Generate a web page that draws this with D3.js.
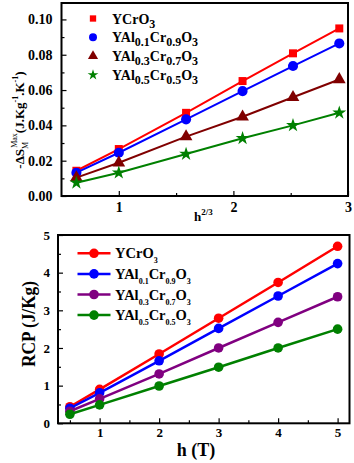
<!DOCTYPE html>
<html><head><meta charset="utf-8">
<script src="https://cdn.jsdelivr.net/npm/d3@7"></script>
<style>body{margin:0;background:#fff}svg{display:block}text{font-family:"Liberation Serif","Times New Roman",serif;font-weight:bold}</style>
</head><body><svg id="c" width="354" height="463"></svg>
<script>
// ---- data ----
const topX = [0.63, 1.0, 1.587, 2.08, 2.52, 2.924]; // h^(2/3)
const topYCrO3 = [0.0143, 0.0266, 0.0471, 0.0651, 0.0808, 0.0949];
const topYAl01 = [0.0132, 0.0245, 0.0434, 0.0594, 0.0736, 0.0864];
const topYAl03 = [0.0104, 0.0188, 0.0336, 0.0449, 0.0559, 0.0660];
const topYAl05 = [0.0075, 0.0132, 0.0238, 0.0327, 0.0400, 0.0471];
const topYTicks = [0.00, 0.02, 0.04, 0.06, 0.08, 0.10];
const topXTicks = [1, 2, 3];

const botX = [0.5, 1, 2, 3, 4, 5]; // h (T)
const rcpYCrO3 = [0.44, 0.90, 1.84, 2.79, 3.74, 4.70];
const rcpYAl01 = [0.40, 0.81, 1.66, 2.52, 3.38, 4.24];
const rcpYAl03 = [0.32, 0.65, 1.31, 2.00, 2.68, 3.36];
const rcpYAl05 = [0.24, 0.49, 0.99, 1.49, 2.00, 2.50];
const botYTicks = [0, 1, 2, 3, 4, 5];
const botXTicks = [1, 2, 3, 4, 5];

const svg = d3.select("#c");

function label(sel, parts, subSize, shift) {
  parts.forEach(p => {
    const t = sel.append("tspan").text(p[0]);
    if (p[1] === "sub") t.attr("font-size", subSize).attr("baseline-shift", shift);
  });
}

// ================= TOP CHART =================
{
  const L = 61.5, R = 348, T = 3, B = 196;
  const x = d3.scaleLinear().domain([0.5, 3]).range([L, R]);
  const y = d3.scaleLinear().domain([0, 0.1093]).range([B, T]);
  const g = svg.append("g");
  const xa = g.append("g").attr("transform", `translate(0,${B})`)
    .call(d3.axisBottom(x).tickValues(topXTicks).tickSizeInner(-5).tickSizeOuter(0).tickFormat(d3.format("d")).tickPadding(6));
  g.append("g").attr("transform", `translate(0,${B})`)
    .call(d3.axisBottom(x).tickValues([1.5, 2.5]).tickSizeInner(-3).tickSizeOuter(0).tickFormat(""));
  const ya = g.append("g").attr("transform", `translate(${L},0)`)
    .call(d3.axisLeft(y).tickValues(topYTicks).tickSizeInner(-5).tickSizeOuter(0).tickFormat(d3.format(".2f")).tickPadding(9));
  g.append("g").attr("transform", `translate(${L},0)`)
    .call(d3.axisLeft(y).tickValues([0.01, 0.03, 0.05, 0.07, 0.09]).tickSizeInner(-3).tickSizeOuter(0).tickFormat(""));
  g.selectAll(".domain").remove();
  g.selectAll(".tick line").attr("stroke", "#000").attr("stroke-width", 1.2);
  xa.selectAll("text").attr("font-size", 14).attr("fill", "#000").style("font-family", "Liberation Serif").style("font-weight", "bold");
  ya.selectAll("text").attr("font-size", 14).attr("fill", "#000").style("font-family", "Liberation Serif").style("font-weight", "bold");
  g.append("rect").attr("x", L).attr("y", T).attr("width", R - L).attr("height", B - T)
    .attr("fill", "none").attr("stroke", "#000").attr("stroke-width", 2);

  const series = [
    {v: topYCrO3, c: "#ff0000", m: d3.symbolSquare, s: 64, ls: 40, name: [["YCrO"], ["3", "sub"]]},
    {v: topYAl01, c: "#0000ff", m: d3.symbolCircle, s: 80, ls: 50, name: [["YAl"], ["0.1", "sub"], ["Cr"], ["0.9", "sub"], ["O"], ["3", "sub"]]},
    {v: topYAl03, c: "#800000", m: d3.symbolTriangle, s: 70, ls: 45, name: [["YAl"], ["0.3", "sub"], ["Cr"], ["0.7", "sub"], ["O"], ["3", "sub"]]},
    {v: topYAl05, c: "#008000", m: d3.symbolStar, s: 60, ls: 36, name: [["YAl"], ["0.5", "sub"], ["Cr"], ["0.5", "sub"], ["O"], ["3", "sub"]]}
  ];
  const line = d3.line().x((d, i) => x(topX[i])).y(d => y(d));
  series.forEach(s => {
    g.append("path").datum(s.v).attr("d", line).attr("fill", "none").attr("stroke", s.c).attr("stroke-width", 2);
    g.selectAll(null).data(s.v).enter().append("path")
      .attr("d", d3.symbol().type(s.m).size(s.s))
      .attr("transform", (d, i) => `translate(${x(topX[i])},${y(d)})`).attr("fill", s.c);
  });
  series.forEach((s, i) => {
    const ly = 18.5 + i * 18.8;
    g.append("path").attr("d", d3.symbol().type(s.m).size(s.ls)).attr("transform", `translate(93,${ly})`).attr("fill", s.c);
    const t = g.append("text").attr("x", 112).attr("y", ly + 5).attr("font-size", 14).attr("fill", "#000");
    label(t, s.name, 12, -4);
  });
  const xt = svg.append("text").attr("x", 194).attr("y", 221).attr("font-size", 13).attr("fill", "#000");
  xt.append("tspan").text("h");
  xt.append("tspan").text("2/3").attr("font-size", 9).attr("baseline-shift", 6);
  const yt = svg.append("text").attr("transform", "translate(24,120) rotate(-90)").attr("text-anchor", "middle")
    .attr("font-size", 13).attr("fill", "#000");
  yt.append("tspan").text("-ΔS");
  yt.append("tspan").text("M").attr("font-size", 8).attr("baseline-shift", -4).attr("font-weight", "normal");
  yt.append("tspan").text("Max").attr("font-size", 8).attr("dx", -6).attr("baseline-shift", 7).attr("font-weight", "normal");
  yt.append("tspan").text("(J.Kg");
  yt.append("tspan").text("-1").attr("font-size", 8).attr("baseline-shift", 6);
  yt.append("tspan").text(".K");
  yt.append("tspan").text("-1").attr("font-size", 8).attr("baseline-shift", 6);
  yt.append("tspan").text(")");
}

// ================= BOTTOM CHART =================
{
  const L = 58, R = 349.5, T = 235, B = 423.3;
  const x = d3.scaleLinear().domain([0.3, 5.2]).range([L, R]);
  const y = d3.scaleLinear().domain([0, 5]).range([B, T]);
  const g = svg.append("g");
  const xa = g.append("g").attr("transform", `translate(0,${B})`)
    .call(d3.axisBottom(x).tickValues(botXTicks).tickSizeInner(-5).tickSizeOuter(0).tickFormat(d3.format("d")).tickPadding(4));
  g.append("g").attr("transform", `translate(0,${B})`)
    .call(d3.axisBottom(x).tickValues([0.5, 1.5, 2.5, 3.5, 4.5]).tickSizeInner(-3).tickSizeOuter(0).tickFormat(""));
  const ya = g.append("g").attr("transform", `translate(${L},0)`)
    .call(d3.axisLeft(y).tickValues(botYTicks).tickSizeInner(-5).tickSizeOuter(0).tickFormat(d3.format("d")).tickPadding(8));
  g.append("g").attr("transform", `translate(${L},0)`)
    .call(d3.axisLeft(y).tickValues([0.5, 1.5, 2.5, 3.5, 4.5]).tickSizeInner(-3).tickSizeOuter(0).tickFormat(""));
  g.selectAll(".domain").remove();
  g.selectAll(".tick line").attr("stroke", "#000").attr("stroke-width", 1.2);
  xa.selectAll("text").attr("font-size", 13).attr("fill", "#000").style("font-family", "Liberation Serif").style("font-weight", "bold");
  ya.selectAll("text").attr("font-size", 13).attr("fill", "#000").style("font-family", "Liberation Serif").style("font-weight", "bold");
  g.append("rect").attr("x", L).attr("y", T).attr("width", R - L).attr("height", B - T)
    .attr("fill", "none").attr("stroke", "#000").attr("stroke-width", 2);

  const series = [
    {v: rcpYCrO3, c: "#ff0000", name: [["YCrO"], ["3", "sub"]]},
    {v: rcpYAl01, c: "#0000ff", name: [["YAl"], ["0.1", "sub"], ["Cr"], ["0.9", "sub"], ["O"], ["3", "sub"]]},
    {v: rcpYAl03, c: "#800080", name: [["YAl"], ["0.3", "sub"], ["Cr"], ["0.7", "sub"], ["O"], ["3", "sub"]]},
    {v: rcpYAl05, c: "#008000", name: [["YAl"], ["0.5", "sub"], ["Cr"], ["0.5", "sub"], ["O"], ["3", "sub"]]}
  ];
  const line = d3.line().x((d, i) => x(botX[i])).y(d => y(d));
  series.forEach(s => {
    g.append("path").datum(s.v).attr("d", line).attr("fill", "none").attr("stroke", s.c).attr("stroke-width", 2.5);
    g.selectAll(null).data(s.v).enter().append("circle")
      .attr("cx", (d, i) => x(botX[i])).attr("cy", d => y(d)).attr("r", 4.8).attr("fill", s.c);
  });
  series.forEach((s, i) => {
    const ly = 253.3 + i * 20.6;
    g.append("line").attr("x1", 77.5).attr("x2", 110.5).attr("y1", ly).attr("y2", ly).attr("stroke", s.c).attr("stroke-width", 2.5);
    g.append("circle").attr("cx", 94).attr("cy", ly).attr("r", 4.8).attr("fill", s.c);
    const t = g.append("text").attr("x", 115).attr("y", ly + 5).attr("font-size", 14.5).attr("fill", "#000");
    label(t, s.name, 8, -5);
  });
  svg.append("text").attr("x", 196).attr("y", 456).attr("text-anchor", "middle").attr("font-size", 18).attr("fill", "#000").text("h (T)");
  svg.append("text").attr("transform", "translate(35,324) rotate(-90)").attr("text-anchor", "middle")
    .attr("font-size", 18).attr("textLength", 86).attr("lengthAdjust", "spacingAndGlyphs").attr("fill", "#000").text("RCP (J/Kg)");
}
</script></body></html>
